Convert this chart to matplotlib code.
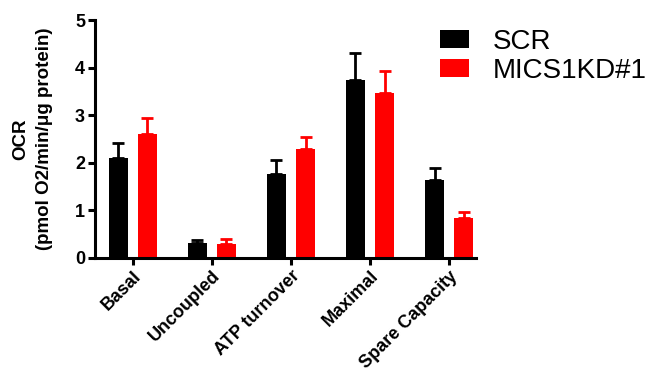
import numpy as np
import matplotlib.pyplot as plt

plt.rcParams['font.family'] = ['Liberation Sans', 'DejaVu Sans']

categories = ['Basal', 'Uncoupled', 'ATP turnover', 'Maximal', 'Spare Capacity']
scr_mean = [2.10, 0.31, 1.76, 3.75, 1.63]
scr_err = [0.32, 0.07, 0.29, 0.55, 0.26]
kd_mean = [2.60, 0.29, 2.28, 3.47, 0.84]
kd_err = [0.35, 0.11, 0.26, 0.45, 0.13]

fig = plt.figure(figsize=(6.63, 3.86), dpi=100)
ax = fig.add_axes([0.143, 0.332, 0.575, 0.616])

x = np.arange(len(categories))
w = 0.24
off = 0.185

ax.bar(x - off, scr_mean, w, color='black', label='SCR',
       yerr=[np.zeros(5), scr_err], ecolor='black',
       error_kw=dict(elinewidth=2, capsize=4, capthick=2))
ax.bar(x + off, kd_mean, w, color='#ff0000', label='MICS1KD#1',
       yerr=[np.zeros(5), kd_err], ecolor='#ff0000',
       error_kw=dict(elinewidth=2, capsize=4, capthick=2))

ax.set_xlim(-0.48, 4.34)
ax.set_ylim(0, 5)
ax.set_yticks(range(6))
ax.set_xticks(x)
ax.set_xticklabels(categories, rotation=45, ha='right', rotation_mode='anchor',
                   fontsize=13, fontweight='bold')
for lab in ax.get_yticklabels():
    lab.set_fontsize(13)
    lab.set_fontweight('bold')

ax.spines['top'].set_visible(False)
ax.spines['right'].set_visible(False)
ax.spines['left'].set_linewidth(2.2)
ax.spines['bottom'].set_linewidth(2.2)
ax.tick_params(axis='both', width=2.2, length=5, pad=2)

ax.set_ylabel('OCR\n(pmol O2/min/\u03bcg protein)', fontsize=13.5,
              fontweight='bold', labelpad=16, linespacing=1.5)

ax.legend(loc='upper left', bbox_to_anchor=(0.655, 0.94),
          bbox_transform=fig.transFigure, frameon=False, fontsize=20,
          handlelength=1.05, handleheight=0.6, handletextpad=0.85,
          labelspacing=0.12, borderaxespad=0, borderpad=0.2)

fig.savefig('out.png', dpi=100)
